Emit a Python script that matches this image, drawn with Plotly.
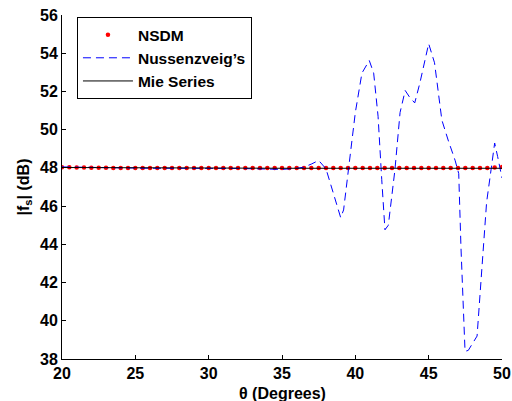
import numpy as np
import plotly.graph_objects as go

# NSDM samples (every 0.5 degrees)
nsdm_theta = [20 + 0.5 * i for i in range(61)]
nsdm_vals = [48.03, 48.03, 48.02, 48.02, 48.01, 48.01, 48.01, 48.0, 48.0, 48.0,
             48.0, 48.0, 48.0, 48.0, 48.0, 48.0, 48.0, 48.0, 48.0, 48.0,
             48.0, 48.0, 48.0, 48.0, 48.0, 48.0, 48.0, 48.0, 48.0, 48.0,
             48.0, 48.0, 48.0, 48.0, 48.0, 48.0, 48.0, 48.0, 48.0, 48.0,
             48.0, 48.0, 48.0, 48.0, 48.0, 48.0, 48.0, 48.0, 48.0, 48.0,
             48.0, 48.0, 48.0, 48.0, 48.0, 48.0, 48.0, 48.0, 48.0, 48.02, 48.05]

# Mie series
mie_theta = [20, 25, 30, 35, 40, 45, 50]
mie_vals = [48.02, 48.0, 47.99, 47.98, 47.98, 47.98, 47.98]

# Nussenzveig's approximation
nus_theta = [20, 22, 24, 26, 28, 30, 32, 34, 35, 36, 36.5, 37.0, 37.5, 38.0, 38.5,
             39.0, 39.2, 39.6, 40.0, 40.45, 40.95, 41.25, 41.55, 41.8, 42.02,
             42.25, 42.7, 43.05, 43.4, 43.7, 44.05, 44.4, 45.0, 45.4, 45.9,
             46.35, 46.8, 47.05, 47.2, 47.48, 47.7, 48.3, 48.65, 48.95, 49.2,
             49.5, 49.7, 50.0]
nus_vals = [48.05, 48.02, 48.0, 47.98, 47.98, 47.99, 47.97, 47.94, 47.92, 47.98, 48.04,
            48.2, 48.39, 47.95, 46.68, 45.4, 45.8, 48.2, 50.9, 52.96, 53.62,
            52.96, 50.7, 47.4, 44.76, 45.0, 47.9, 50.9, 52.05, 51.7, 51.4,
            52.44, 54.5, 53.5, 50.5, 49.4, 48.4, 47.7, 43.9, 38.4, 38.45,
            39.2, 42.7, 46.2, 47.6, 49.3, 48.6, 47.47]

x_ticks = [20, 25, 30, 35, 40, 45, 50]
y_ticks = [38, 40, 42, 44, 46, 48, 50, 52, 54, 56]
x_title = "\u03b8 (Degrees)"
y_title = "|f<sub>s</sub>| (dB)"

FONT = "Liberation Sans, Arial, Helvetica, sans-serif"
BOLD16 = dict(family=FONT, size=16, color="black", weight="bold")

fig = go.Figure()
fig.add_trace(go.Scatter(x=nsdm_theta, y=nsdm_vals, mode="markers", name="NSDM",
                         marker=dict(color="#ff0000", size=4.5)))
fig.add_trace(go.Scatter(x=nus_theta, y=nus_vals, mode="lines", name="Nussenzveig\u2019s",
                         line=dict(color="#0000ff", width=1, dash="8px,5px")))
fig.add_trace(go.Scatter(x=mie_theta, y=mie_vals, mode="lines", name="Mie Series",
                         line=dict(color="#000000", width=1)))

fig.update_layout(
    width=512, height=401,
    margin=dict(l=62, r=10, t=15, b=42),
    plot_bgcolor="white", paper_bgcolor="white",
    font=BOLD16,
    showlegend=True,
    legend=dict(x=0.034, y=0.994, xanchor="left", yanchor="top",
                bordercolor="black", borderwidth=1, bgcolor="white",
                font=dict(family=FONT, size=15.5, color="black", weight="bold"),
                itemwidth=50, tracegroupgap=0),
)
fig.add_annotation(text=x_title, xref="paper", yref="paper", x=0.5, y=0,
                   xanchor="center", yanchor="middle", yshift=-34, showarrow=False,
                   font=BOLD16)
fig.update_xaxes(range=[20, 50], tickvals=x_ticks, automargin=False,
                 showline=True, linecolor="black", linewidth=1, mirror=False,
                 ticks="inside", ticklen=4, tickcolor="black", showgrid=False, zeroline=False,
                 tickfont=BOLD16)
fig.update_yaxes(range=[38, 56], tickvals=y_ticks, automargin=False,
                 showline=True, linecolor="black", linewidth=1, mirror=False,
                 ticks="inside", ticklen=4, tickcolor="black", showgrid=False, zeroline=False,
                 tickfont=BOLD16,
                 title=dict(text=y_title, standoff=6, font=BOLD16))

fig.write_html("out.html")
